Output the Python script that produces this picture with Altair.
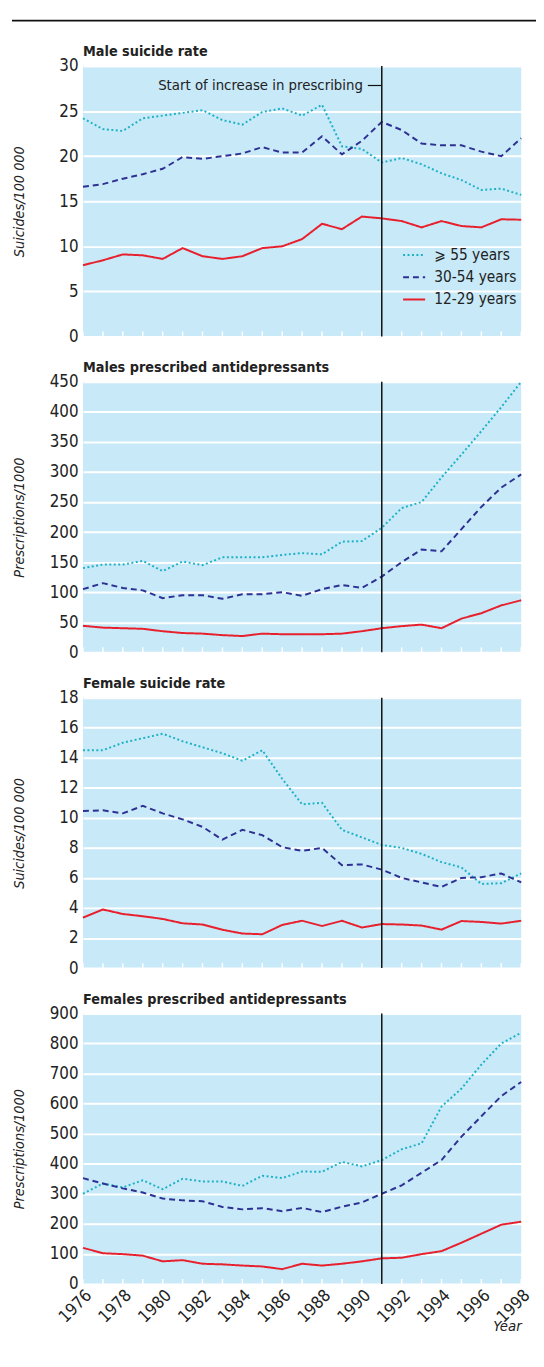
import altair as alt
import pandas as pd

FONT = "Liberation Sans Narrow, DejaVu Sans Condensed, Arial Narrow, sans-serif"
W, H = 444, 274

years = list(range(1976, 1999))
series_names = ["⩾ 55 years", "30-54 years", "12-29 years"]
series_colors = ["#1db1c6", "#2e3092", "#e8202d"]
series_dashes = [[2, 2.5], [6, 4], [1, 0]]

male_suicide_55 = [24.2, 23.0, 22.8, 24.2, 24.5, 24.8, 25.1, 24.0, 23.5, 24.9, 25.3, 24.5,
                   25.7, 21.1, 20.8, 19.3, 19.8, 19.1, 18.1, 17.35, 16.25, 16.4, 15.7]
male_suicide_30 = [16.6, 16.9, 17.5, 18.0, 18.6, 19.9, 19.7, 20.0, 20.3, 21.0, 20.4, 20.4,
                   22.2, 20.2, 21.7, 23.8, 22.9, 21.4, 21.2, 21.2, 20.5, 20.0, 22.0]
male_suicide_12 = [7.9, 8.45, 9.1, 9.0, 8.6, 9.8, 8.9, 8.6, 8.9, 9.8, 10.0, 10.8,
                   12.5, 11.9, 13.3, 13.1, 12.8, 12.1, 12.8, 12.25, 12.1, 13.0, 12.95]

male_presc_55 = [140, 146, 146, 152, 135, 151, 145, 158, 158, 158, 162, 165,
                 163, 184, 185, 207, 240, 250, 291, 329, 368, 408, 450]
male_presc_30 = [105, 115, 107, 103, 90, 95, 95, 89, 96.5, 96.5, 100, 94,
                 105, 112, 107, 126, 150, 171, 168, 205, 242, 274, 296]
male_presc_12 = [44, 41, 40, 39, 35, 32, 31, 28.5, 27, 31, 30, 30,
                 30, 31, 35, 40, 43.5, 46, 40, 56, 65, 78, 86.5]

female_suicide_55 = [14.5, 14.5, 15.0, 15.3, 15.6, 15.1, 14.7, 14.3, 13.8, 14.5, 12.6, 10.9,
                     11.0, 9.2, 8.7, 8.2, 8.0, 7.6, 7.05, 6.7, 5.6, 5.65, 6.3]
female_suicide_30 = [10.45, 10.5, 10.3, 10.8, 10.3, 9.9, 9.4, 8.55, 9.2, 8.85, 8.05, 7.8,
                     8.0, 6.85, 6.9, 6.55, 6.0, 5.7, 5.4, 6.0, 6.05, 6.3, 5.7]
female_suicide_12 = [3.36, 3.9, 3.6, 3.45, 3.27, 2.98, 2.9, 2.55, 2.3, 2.25, 2.87, 3.15,
                     2.8, 3.15, 2.7, 2.93, 2.9, 2.83, 2.56, 3.13, 3.07, 2.96, 3.15]

female_presc_55 = [300, 334, 321, 345, 315, 350, 341, 341, 326, 360, 352, 374,
                   373, 406, 391, 412, 448, 468, 590, 650, 730, 800, 836]
female_presc_30 = [352, 334, 318, 304, 284, 278, 275, 256, 248, 252, 242, 253,
                   239, 257, 271, 300, 328, 370, 412, 490, 558, 625, 672]
female_presc_12 = [120, 102, 99, 94, 75, 79, 67, 65, 61, 58, 49, 67,
                   61, 67, 75, 85, 87, 99, 109, 137, 167, 197, 207]

marker_year = 1991
annot_text = ["Start of increase in prescribing"]
annot_value = [27.84]
annot_dash_start = [1990.3]
x_label_years = list(range(1976, 1999, 2))


def make_df(a, b, c):
    rows = []
    for name, vals in zip(series_names, [a, b, c]):
        for yr, v in zip(years, vals):
            rows.append({"year": yr, "value": v, "series": name})
    return pd.DataFrame(rows)


x_scale = alt.Scale(domain=[1976, 1998], nice=False, zero=False)
color_scale = alt.Scale(domain=series_names, range=series_colors)
dash_scale = alt.Scale(domain=series_names, range=series_dashes)


def panel(df, title, ytitle, ymax, ystep, last=False, legend=False, extra=None,
          title_offset=-2.7):
    if last:
        x_enc = alt.X(
            "year:Q", scale=x_scale, title="Year",
            axis=alt.Axis(values=x_label_years, format="d", labelAngle=315,
                          labelFontSize=17, labelColor="#222", labelPadding=3,
                          ticks=False, domain=False, grid=False,
                          titleFontStyle="italic", titleFontWeight="normal",
                          titleFontSize=15, titleColor="#222",
                          titleX=W, titleAlign="right", titleY=47,
                          titleBaseline="alphabetic"))
    else:
        x_enc = alt.X("year:Q", scale=x_scale, axis=None)

    y_enc = alt.Y(
        "value:Q", scale=alt.Scale(domain=[0, ymax], nice=False), title=ytitle,
        axis=alt.Axis(values=list(range(0, ymax + 1, ystep)), grid=True,
                      gridColor="white", gridWidth=2, domain=False, ticks=False,
                      labelFontSize=17, labelColor="#222", labelPadding=5,
                      titleFontStyle="italic", titleFontWeight="normal",
                      titleFontSize=14.5, titleColor="#222",
                      titleX=-64, titleY=H / 2, titleAlign="center",
                      titleBaseline="middle", titleAngle=270))

    if legend:
        color_enc = alt.Color(
            "series:N", scale=color_scale,
            legend=alt.Legend(title=None, orient="none", legendX=323, legendY=179,
                              labelFontSize=15.5, labelColor="#222",
                              symbolType="stroke", symbolSize=500,
                              symbolStrokeWidth=2, rowPadding=1.5, labelOffset=8))
        dash_enc = alt.StrokeDash("series:N", scale=dash_scale)
    else:
        color_enc = alt.Color("series:N", scale=color_scale)
        dash_enc = alt.StrokeDash("series:N", scale=dash_scale)

    lines = alt.Chart(df).mark_line(strokeWidth=2).encode(
        x=x_enc, y=y_enc, color=color_enc, strokeDash=dash_enc)

    ticks = alt.Chart(pd.DataFrame({"year": years})).mark_rule(
        color="white", strokeWidth=1.5).encode(
        x=x_enc, y=alt.value(H - 5), y2=alt.value(H))

    vline = alt.Chart(pd.DataFrame({"year": [marker_year]})).mark_rule(
        color="#111", strokeWidth=1.5).encode(x=x_enc)

    layers = [ticks, lines, vline]
    if extra is not None:
        layers += extra

    return alt.layer(*layers).properties(
        width=W, height=H,
        title=alt.TitleParams(title, anchor="start", frame="group", fontSize=14.5,
                              font=FONT, fontWeight="bold", color="#222",
                              offset=title_offset))


annot_df = pd.DataFrame({"year": annot_dash_start, "end": [marker_year],
                         "value": annot_value, "text": annot_text})
annot_txt = alt.Chart(annot_df).mark_text(
    align="right", baseline="middle", fontSize=15, font=FONT, color="#222", dx=-5
).encode(x="year:Q", y="value:Q", text="text:N")
annot_dash = alt.Chart(annot_df).mark_rule(color="#111", strokeWidth=1.2).encode(
    x="year:Q", x2="end:Q", y="value:Q")
top_rule = alt.Chart(annot_df).mark_rule(color="#111", strokeWidth=2).encode(
    x=alt.value(-72), x2=alt.value(462), y=alt.value(-46))

p1 = panel(make_df(male_suicide_55, male_suicide_30, male_suicide_12),
           "Male suicide rate", "Suicides/100 000", 30, 5, legend=True,
           extra=[annot_txt, annot_dash, top_rule], title_offset=-40.5)
p2 = panel(make_df(male_presc_55, male_presc_30, male_presc_12),
           "Males prescribed antidepressants", "Prescriptions/1000", 450, 50)
p3 = panel(make_df(female_suicide_55, female_suicide_30, female_suicide_12),
           "Female suicide rate", "Suicides/100 000", 18, 2)
p4 = panel(make_df(female_presc_55, female_presc_30, female_presc_12),
           "Females prescribed antidepressants", "Prescriptions/1000", 900, 100, last=True)

chart = alt.vconcat(p1, p2, p3, p4, spacing=16).properties(
    padding={"left": 3, "top": 3, "right": -4, "bottom": -6}
).configure(font=FONT).configure_view(fill="#c7e9f8", strokeWidth=0)

chart.save("out.html", embed_options={"renderer": "svg", "actions": False})
